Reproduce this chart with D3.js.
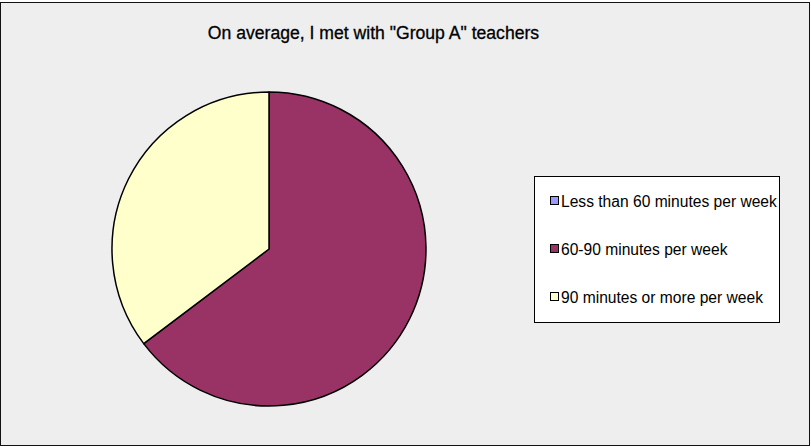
<!DOCTYPE html>
<html>
<head>
<meta charset="utf-8">
<script src="https://cdn.jsdelivr.net/npm/d3@7"></script>
<style>
  html, body { margin: 0; padding: 0; background: #fff; }
  svg { display: block; }
  text { font-family: "Liberation Sans", Arial, sans-serif; fill: #000; }
</style>
</head>
<body>
<svg></svg>
<script>
// chart data
const title = 'On average, I met with "Group A" teachers'
const categories = ['Less than 60 minutes per week', '60-90 minutes per week', '90 minutes or more per week']
const values = [0, 11, 6]
const colors = ['#9999ff', '#993366', '#ffffcc']

const width = 811
const height = 448

let svg = d3.select('svg')
    .attr('width', width)
    .attr('height', height)

function drawFrame() {
    svg.append('rect')
        .attr('x', 0.5)
        .attr('y', 2.5)
        .attr('width', 809)
        .attr('height', 443)
        .attr('fill', '#eeeeee')
        .attr('stroke', '#111')
        .attr('stroke-width', 1)

    svg.append('text')
        .attr('x', 373.5)
        .attr('y', 39)
        .attr('text-anchor', 'middle')
        .style('font-size', '17.6px')
        .style('stroke', '#000')
        .style('stroke-width', 0.3)
        .text(title)
}

function drawPie() {
    const cx = 269, cy = 249, r = 157

    let color = d3.scaleOrdinal()
        .domain(categories)
        .range(colors)

    let pie = d3.pie()
        .sort(null)
        .value(d => d.value)

    let arc = d3.arc()
        .innerRadius(0)
        .outerRadius(r)

    let data = categories.map((c, i) => ({ name: c, value: values[i] }))

    svg.append('g')
        .attr('transform', 'translate(' + cx + ',' + cy + ')')
        .selectAll('path')
        .data(pie(data).filter(d => d.value > 0))
        .enter()
        .append('path')
        .attr('d', arc)
        .attr('fill', d => color(d.data.name))
        .attr('stroke', '#000')
        .attr('stroke-width', 1.5)
        .attr('stroke-linejoin', 'round')
}

function drawLegend() {
    const lx = 534.5, ly = 176.5, lw = 245, lh = 146

    let legend = svg.append('g')

    legend.append('rect')
        .attr('x', lx)
        .attr('y', ly)
        .attr('width', lw)
        .attr('height', lh)
        .attr('fill', '#fff')
        .attr('stroke', '#000')
        .attr('stroke-width', 1)

    let rowY = d3.scalePoint()
        .domain(categories)
        .range([201, 297])

    let rows = legend.selectAll('g.row')
        .data(categories)
        .enter()
        .append('g')
        .attr('class', 'row')
        .attr('transform', d => 'translate(0,' + rowY(d) + ')')

    rows.append('rect')
        .attr('x', 550.5)
        .attr('y', -4.5)
        .attr('width', 8)
        .attr('height', 8)
        .attr('fill', (d, i) => colors[i])
        .attr('stroke', '#000')
        .attr('stroke-width', 1)

    rows.append('text')
        .attr('x', 561)
        .attr('y', 5.5)
        .style('font-size', '15.6px')
        .text(d => d)
}

drawFrame()
drawPie()
drawLegend()
</script>
</body>
</html>
